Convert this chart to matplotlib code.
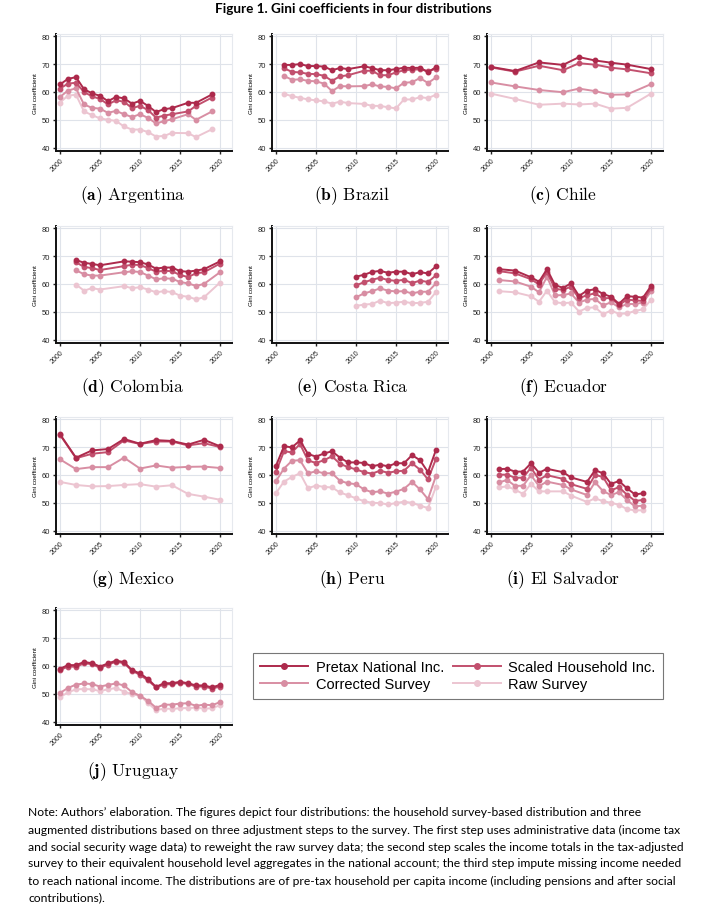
import numpy as np
import matplotlib
matplotlib.use('Agg')
import matplotlib.pyplot as plt
from matplotlib.lines import Line2D

plt.rcParams['mathtext.fontset'] = 'cm'

# ---- data (Gini x 100) ----
arg_years = [2000, 2001, 2002, 2003, 2004, 2005, 2006, 2007, 2008, 2009, 2010, 2011, 2012, 2013, 2014, 2016, 2017, 2019]
arg_pretax = [62.7, 64.7, 65.3, 61.0, 59.5, 58.6, 56.7, 58.2, 57.7, 55.8, 56.8, 55.0, 52.8, 53.8, 54.2, 56.1, 56.1, 59.1]
arg_scaled = [61.2, 63.0, 63.3, 60.0, 58.4, 57.5, 55.5, 57.0, 56.5, 54.2, 55.0, 53.5, 50.8, 51.5, 52.0, 53.0, 55.0, 58.0]
arg_corrected = [58.2, 60.5, 61.3, 55.5, 54.3, 54.0, 52.5, 53.2, 52.0, 51.0, 52.0, 50.7, 48.7, 49.5, 50.2, 52.0, 50.0, 53.0]
arg_raw = [56.2, 58.7, 59.0, 53.0, 51.7, 50.5, 50.0, 49.6, 47.6, 46.5, 46.5, 45.6, 44.0, 44.2, 45.3, 45.2, 43.8, 46.6]

bra_years = [2001, 2002, 2003, 2004, 2005, 2006, 2007, 2008, 2009, 2011, 2012, 2013, 2014, 2015, 2016, 2017, 2018, 2019, 2020]
bra_pretax = [69.7, 69.7, 70.0, 69.3, 69.3, 69.1, 67.8, 68.6, 68.2, 69.2, 68.6, 67.8, 67.8, 68.2, 68.7, 68.6, 68.7, 67.1, 68.9]
bra_scaled = [68.5, 67.2, 67.0, 66.5, 66.4, 65.8, 64.0, 65.6, 66.0, 67.6, 67.6, 66.0, 66.0, 67.0, 67.8, 68.0, 68.1, 67.5, 68.3]
bra_corrected = [65.7, 64.4, 64.5, 64.0, 63.8, 63.0, 60.3, 62.1, 62.0, 62.1, 62.7, 62.0, 61.8, 61.3, 63.3, 63.5, 65.0, 63.2, 65.2]
bra_raw = [59.3, 58.5, 57.9, 57.3, 57.0, 56.6, 55.8, 56.5, 56.0, 55.7, 55.0, 55.0, 54.5, 54.1, 57.3, 57.3, 58.1, 57.8, 59.0]

chl_years = [2000, 2003, 2006, 2009, 2011, 2013, 2015, 2017, 2020]
chl_pretax = [69.0, 67.5, 70.6, 69.7, 72.5, 71.3, 70.5, 69.8, 68.2]
chl_scaled = [68.8, 67.3, 69.4, 67.8, 70.3, 69.8, 68.7, 68.1, 66.7]
chl_corrected = [63.4, 62.0, 60.7, 59.9, 61.2, 60.3, 59.0, 59.1, 62.8]
chl_raw = [59.4, 57.5, 55.4, 55.8, 55.5, 55.8, 54.0, 54.3, 59.4]

col_years = [2002, 2003, 2004, 2005, 2008, 2009, 2010, 2011, 2012, 2013, 2014, 2015, 2016, 2017, 2018, 2020]
col_pretax = [68.6, 67.6, 67.2, 66.7, 68.1, 68.0, 67.8, 67.0, 65.5, 65.9, 65.9, 64.6, 64.4, 64.8, 65.3, 68.1]
col_scaled = [67.8, 66.1, 65.7, 65.0, 66.4, 66.9, 66.8, 65.7, 64.4, 64.7, 64.6, 63.2, 62.5, 63.8, 64.2, 67.3]
col_corrected = [64.9, 63.5, 63.0, 63.0, 64.2, 64.5, 64.3, 63.0, 61.7, 62.0, 61.9, 60.7, 60.2, 59.3, 60.0, 64.2]
col_raw = [59.8, 57.6, 58.5, 58.0, 59.2, 58.5, 58.8, 58.0, 57.0, 57.4, 57.1, 55.8, 55.4, 54.5, 55.2, 60.5]

cri_years = [2010, 2011, 2012, 2013, 2014, 2015, 2016, 2017, 2018, 2019, 2020]
cri_pretax = [62.6, 63.3, 64.3, 64.7, 64.0, 64.4, 64.4, 63.5, 64.2, 63.8, 66.3]
cri_scaled = [59.5, 60.6, 61.5, 62.2, 61.4, 61.1, 61.5, 60.3, 61.2, 60.7, 63.1]
cri_corrected = [55.2, 56.6, 57.4, 58.4, 57.6, 57.3, 57.4, 56.6, 57.2, 57.2, 60.2]
cri_raw = [52.1, 52.6, 52.8, 54.0, 53.1, 53.3, 53.6, 53.1, 53.2, 53.6, 57.1]

ecu_years = [2001, 2003, 2005, 2006, 2007, 2008, 2009, 2010, 2011, 2012, 2013, 2014, 2015, 2016, 2017, 2018, 2019, 2020]
ecu_pretax = [65.3, 64.8, 62.4, 60.8, 65.3, 59.6, 58.6, 60.2, 55.7, 57.6, 58.1, 56.4, 55.4, 52.9, 55.6, 55.4, 55.1, 59.2]
ecu_scaled = [64.6, 63.8, 61.7, 59.8, 64.3, 58.2, 57.9, 59.0, 54.8, 56.0, 56.6, 54.8, 55.0, 52.4, 54.4, 54.1, 53.9, 58.4]
ecu_corrected = [61.4, 60.9, 59.0, 57.0, 62.6, 55.9, 56.0, 56.6, 53.3, 54.4, 54.6, 52.3, 53.4, 51.6, 52.8, 52.8, 53.3, 57.3]
ecu_raw = [57.4, 57.0, 55.6, 53.6, 57.6, 53.4, 53.1, 53.3, 50.1, 51.4, 51.6, 49.2, 50.4, 49.3, 49.4, 50.3, 50.9, 54.3]

mex_years = [2000, 2002, 2004, 2006, 2008, 2010, 2012, 2014, 2016, 2018, 2020]
mex_pretax = [74.6, 66.2, 68.8, 69.3, 72.9, 71.2, 72.5, 72.2, 70.9, 72.6, 70.3]
mex_scaled = [74.4, 66.0, 67.6, 68.2, 72.4, 71.1, 72.0, 72.0, 70.6, 71.4, 70.0]
mex_corrected = [65.6, 62.1, 62.8, 62.8, 66.2, 62.3, 63.4, 62.6, 62.9, 63.0, 62.5]
mex_raw = [57.5, 56.4, 55.9, 56.0, 56.4, 56.7, 55.8, 56.3, 53.2, 52.2, 51.1]

per_years = list(range(2000, 2021))
per_pretax = [63.3, 70.3, 69.9, 72.4, 67.5, 66.6, 67.7, 68.5, 66.2, 64.5, 64.5, 64.3, 63.1, 63.7, 63.1, 64.2, 64.2, 67.1, 65.3, 61.0, 69.0]
per_scaled = [61.2, 68.5, 68.1, 71.1, 65.2, 64.3, 65.3, 66.7, 64.0, 62.8, 62.0, 61.0, 60.5, 61.5, 60.8, 61.3, 61.5, 64.2, 61.9, 58.4, 65.8]
per_corrected = [57.8, 62.3, 65.1, 65.3, 60.6, 61.3, 60.6, 60.6, 57.9, 57.0, 56.7, 54.8, 53.8, 54.1, 53.3, 54.0, 55.0, 57.5, 54.8, 51.3, 59.7]
per_raw = [53.5, 57.6, 59.3, 60.6, 55.2, 56.2, 55.7, 55.5, 53.7, 52.7, 51.6, 50.6, 50.0, 49.9, 49.4, 49.9, 50.4, 50.0, 49.0, 48.1, 55.8]

slv_years = [2001, 2002, 2003, 2004, 2005, 2006, 2007, 2009, 2010, 2012, 2013, 2014, 2015, 2016, 2017, 2018, 2019]
slv_pretax = [62.1, 62.2, 61.2, 61.2, 64.2, 60.8, 62.2, 61.0, 59.1, 57.5, 61.7, 60.6, 56.8, 57.8, 55.2, 53.0, 53.4]
slv_scaled = [60.1, 60.1, 59.0, 59.0, 62.6, 58.3, 59.9, 58.6, 56.7, 55.0, 60.0, 59.3, 54.5, 55.6, 52.9, 50.7, 51.0]
slv_corrected = [57.3, 58.2, 56.1, 56.1, 59.9, 56.0, 57.6, 56.4, 54.8, 52.8, 57.4, 54.2, 52.8, 53.8, 51.0, 48.7, 49.0]
slv_raw = [55.5, 55.9, 54.7, 53.2, 56.8, 54.1, 54.1, 54.1, 52.6, 50.3, 51.6, 50.6, 50.0, 49.3, 47.7, 47.3, 47.3]

ury_years = list(range(2000, 2021))
ury_pretax = [59.0, 60.3, 60.3, 61.4, 61.0, 59.8, 60.9, 61.9, 61.4, 58.5, 57.3, 55.3, 52.5, 53.8, 53.8, 54.3, 53.8, 53.0, 53.0, 52.3, 53.2]
ury_scaled = [58.5, 59.8, 59.7, 60.9, 60.7, 59.3, 60.5, 61.5, 61.0, 58.3, 56.8, 54.8, 52.3, 53.3, 53.5, 54.0, 53.5, 52.6, 52.6, 51.9, 52.6]
ury_corrected = [50.3, 52.1, 53.3, 53.7, 53.5, 52.6, 53.2, 53.7, 53.0, 50.6, 49.3, 47.5, 45.0, 46.1, 46.1, 46.5, 46.6, 45.7, 46.1, 45.9, 47.0]
ury_raw = [48.8, 50.5, 51.6, 51.7, 51.6, 51.0, 51.6, 52.1, 50.8, 49.8, 49.3, 46.7, 44.1, 44.7, 44.6, 44.8, 44.9, 45.0, 44.7, 44.8, 45.9]

panel_labels = ['(a)', '(b)', '(c)', '(d)', '(e)', '(f)', '(g)', '(h)', '(i)', '(j)']
countries = ['Argentina', 'Brazil', 'Chile', 'Colombia', 'Costa Rica', 'Ecuador',
             'Mexico', 'Peru', 'El Salvador', 'Uruguay']
series_names = ['Pretax National Inc.', 'Scaled Household Inc.', 'Corrected Survey', 'Raw Survey']
series_colors = ['#ad2a4c', '#c2506e', '#d88ea3', '#ecc5d1']
y_ticks = [40, 50, 60, 70, 80]
x_ticks = [2000, 2005, 2010, 2015, 2020]

panels = [
    (arg_years, arg_pretax, arg_scaled, arg_corrected, arg_raw),
    (bra_years, bra_pretax, bra_scaled, bra_corrected, bra_raw),
    (chl_years, chl_pretax, chl_scaled, chl_corrected, chl_raw),
    (col_years, col_pretax, col_scaled, col_corrected, col_raw),
    (cri_years, cri_pretax, cri_scaled, cri_corrected, cri_raw),
    (ecu_years, ecu_pretax, ecu_scaled, ecu_corrected, ecu_raw),
    (mex_years, mex_pretax, mex_scaled, mex_corrected, mex_raw),
    (per_years, per_pretax, per_scaled, per_corrected, per_raw),
    (slv_years, slv_pretax, slv_scaled, slv_corrected, slv_raw),
    (ury_years, ury_pretax, ury_scaled, ury_corrected, ury_raw),
]

note_lines = [
    "Note: Authors\u2019 elaboration. The figures depict four distributions: the household survey-based distribution and three",
    "augmented distributions based on three adjustment steps to the survey. The first step uses administrative data (income tax",
    "and social security wage data) to reweight the raw survey data; the second step scales the income totals in the tax-adjusted",
    "survey to their equivalent household level aggregates in the national account; the third step impute missing income needed",
    "to reach national income. The distributions are of pre-tax household per capita income (including pensions and after social",
    "contributions).",
]

# ---- layout (pixel based) ----
W, H = 708, 912
fig = plt.figure(figsize=(W / 100, H / 100), dpi=100)
fig.patch.set_facecolor('white')


def px_axes(left, top, right, bottom):
    return fig.add_axes([left / W, 1 - bottom / H, (right - left) / W, (bottom - top) / H])


col_left = [56, 272, 487]
row_top = [35, 227, 418, 609]
ax_w, ax_h = 176, 117
label_x = [133, 352, 563]
label_y = [196, 388, 580, 772]

for i, (years, *vals) in enumerate(panels):
    r, c = divmod(i, 3)
    left, top = col_left[c], row_top[r]
    ax = px_axes(left, top, left + ax_w, top + ax_h)
    # draw lightest first so darker lines sit on top
    for name, color, v in reversed(list(zip(series_names, series_colors, vals))):
        ax.plot(years, v, color=color, lw=1.4, marker='o', ms=3.2, label=name)
    ax.set_xlim(1999.5, 2021.5)
    ax.set_ylim(38.8, 80.8)
    ax.set_xticks(x_ticks)
    ax.set_yticks(y_ticks)
    ax.set_xticklabels([str(t) for t in x_ticks], rotation=45, ha='right',
                       rotation_mode='anchor', fontsize=5, family='Liberation Sans')
    ax.set_yticklabels([str(t) for t in y_ticks], fontsize=5.5, family='Liberation Sans')
    ax.tick_params(axis='both', length=2.5, width=1, pad=1.5, colors='#222222')
    ax.grid(True, color='#dfe3ea', lw=0.8)
    ax.set_axisbelow(True)
    for s in ['left', 'bottom']:
        ax.spines[s].set_linewidth(1.4)
        ax.spines[s].set_color('#111111')
    for s in ['top', 'right']:
        ax.spines[s].set_color('#e6e9ee')
        ax.spines[s].set_linewidth(0.8)
    ax.set_ylabel('Gini coefficient', fontsize=4.5, family='Liberation Sans', labelpad=3)
    # subfigure caption: bold tag + roman country name
    fig.text(label_x[c] / W, 1 - label_y[r] / H,
             r'$\mathbf{' + panel_labels[i] + '}$ ' + countries[i],
             fontsize=12.5, family='cmr10', ha='center', va='center')

# ---- legend ----
handles = [Line2D([0], [0], color=col, lw=1.4, marker='o', ms=4) for col in series_colors]
order = [0, 2, 1, 3]
leg = fig.legend([handles[k] for k in order], [series_names[k] for k in order],
                 ncol=2, loc='upper left', bbox_to_anchor=(253 / W, 1 - 654 / H),
                 prop={'family': 'Liberation Sans', 'size': 10.5},
                 frameon=True, fancybox=False, handlelength=3.3, handletextpad=0.5,
                 columnspacing=0.6, borderpad=0.5, labelspacing=0.2, borderaxespad=0)
leg.get_frame().set_edgecolor('#555555')
leg.get_frame().set_linewidth(0.8)

# ---- title and note ----
fig.text(353 / W, 1 - 9 / H, 'Figure 1. Gini coefficients in four distributions',
         fontsize=9.7, fontweight='bold', family='Lato', ha='center', va='center')
for k, line in enumerate(note_lines):
    fig.text(28 / W, 1 - (813 + 17 * k) / H, line, fontsize=8.75, family='Lato',
             ha='left', va='center')

fig.savefig('out.png', dpi=100)
